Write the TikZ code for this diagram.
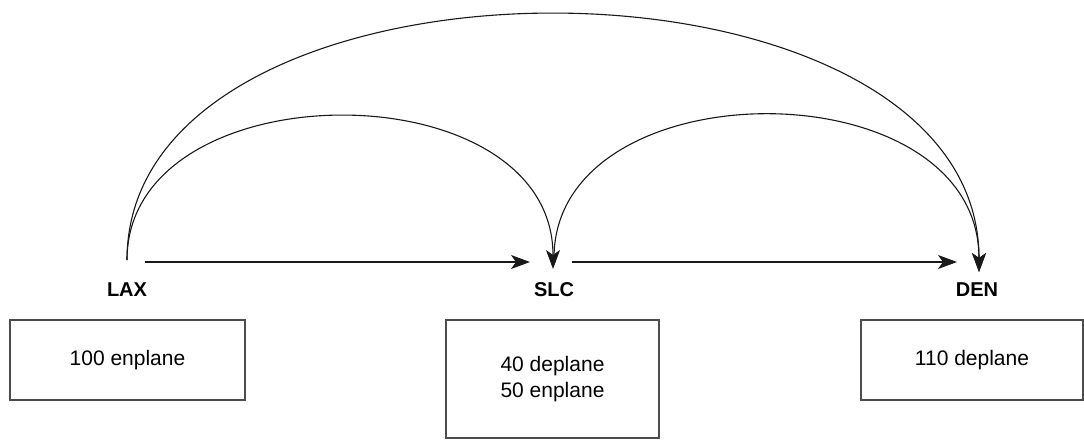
\documentclass[tikz,border=0pt]{standalone}
\usepackage{fontspec}
\setmainfont{Liberation Sans}
\usetikzlibrary{arrows.meta}
\begin{document}
\begin{tikzpicture}[x=1pt,y=-1pt,
  lbl/.style={font=\fontsize{20}{24}\selectfont\bfseries, inner sep=0pt},
  infobox/.style={draw=black!70, line width=1.1pt, font=\fontsize{21}{26}\selectfont, align=center, inner sep=0pt},
  conn/.style={draw=black!90, line width=1.1pt, -{Stealth[length=19pt,width=14pt,inset=5pt]}},
  arc/.style={draw=black!90, line width=1.1pt, -{Stealth[length=19pt,width=14pt,inset=5pt]}}]
\useasboundingbox (0,0) rectangle (1084,440);
% labels
\node[lbl] (lax) at (127,290) {LAX};
\node[lbl] (slc) at (554,290) {SLC};
\node[lbl] (den) at (977,290) {DEN};
% boxes
\node[infobox, minimum width=235pt, minimum height=80pt] (laxbox) at (127.5,360) {100 enplane};
\node[infobox, minimum width=213pt, minimum height=118pt] (slcbox) at (552.5,379) {40 deplane\\50 enplane};
\node[infobox, minimum width=222pt, minimum height=80pt] (denbox) at (972,360) {110 deplane};
% anchor points
\coordinate (laxtop) at (127,260);
\coordinate (slctip) at (553,269);
\coordinate (slcstart) at (554,258);
\coordinate (dentip) at (979,272);
\coordinate (laxr) at (145,262);
\coordinate (slcl) at (530,262);
\coordinate (slcr) at (572,262);
\coordinate (denl) at (957,262);
% straight connectors
\draw[conn] (laxr) -- (slcl);
\draw[conn] (slcr) -- (denl);
% arcs
\draw[arc] (laxtop) .. controls +(0,-192) and +(0,-202) .. (slctip);
\draw[arc] (slcstart) .. controls +(0,-192) and +(0,-207) .. (dentip);
\draw[arc] (laxtop) .. controls +(0,-330) and +(0,-340) .. (dentip);
\end{tikzpicture}
\end{document}
